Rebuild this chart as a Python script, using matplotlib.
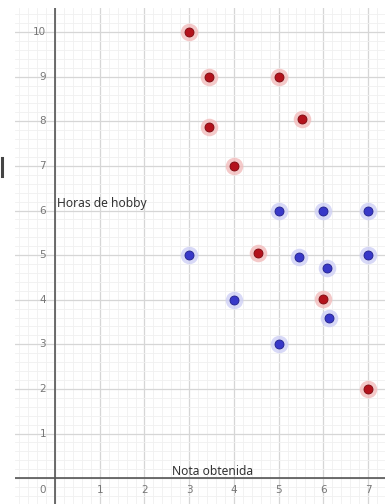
import numpy as np
import matplotlib.pyplot as plt
from matplotlib.lines import Line2D

# --- datos ---
rojo_x = [3, 3.45, 5, 3.45, 5.53, 4, 4.54, 6, 7]
rojo_y = [10, 9, 9, 7.87, 8.05, 7, 5.04, 4.02, 2]
azul_x = [3, 4, 5, 6, 7, 5.46, 6.09, 7, 6.13, 5]
azul_y = [5, 4, 6, 6, 6, 4.95, 4.71, 5, 3.59, 3]
xticks = [1, 2, 3, 4, 5, 6, 7]
yticks = [1, 2, 3, 4, 5, 6, 7, 8, 9, 10]

fig = plt.figure(figsize=(3.85, 5.04), dpi=100)
ax = fig.add_axes([15 / 385, 0, 370 / 385, 496 / 504])
ax.set_xlim(-0.895, 7.38)
ax.set_ylim(-0.58, 10.54)

# cuadricula estilo GeoGebra
ax.set_xticks(np.arange(-0.8, 7.4, 0.2), minor=True)
ax.set_yticks(np.arange(-0.4, 10.6, 0.2), minor=True)
ax.set_xticks(np.arange(-0, 8, 1))
ax.set_yticks(np.arange(0, 11, 1))
ax.grid(True, which='minor', color='#f0f0f0', linewidth=0.6)
ax.grid(True, which='major', color='#d6d6d6', linewidth=0.9)
ax.tick_params(which='both', length=0, labelbottom=False, labelleft=False)
for s in ax.spines.values():
    s.set_visible(False)
ax.set_axisbelow(True)

ax.axhline(0, color='#555555', linewidth=1.2, zorder=1)
ax.axvline(0, color='#555555', linewidth=1.2, zorder=1)

# etiquetas de los ejes
for t in xticks:
    ax.text(t, -0.27, str(t), ha='center', va='center', fontsize=7.5, color='#777777')
for t in yticks:
    ax.text(-0.2, t, str(t), ha='right', va='center', fontsize=7.5, color='#777777')
ax.text(-0.27, -0.27, '0', ha='center', va='center', fontsize=7.5, color='#777777')

ax.text(0.05, 6.07, 'Horas de hobby', fontsize=8.7, color='#333333', family='Noto Sans')
ax.text(2.62, 0.07, 'Nota obtenida', fontsize=8.7, color='#333333', family='Noto Sans')

# puntos con halo
ax.scatter(rojo_x, rojo_y, s=160, color='#f2bcbc', alpha=0.8, linewidths=0, zorder=3)
ax.scatter(rojo_x, rojo_y, s=42, color='#b3121c', edgecolors='#7a0a10', linewidths=0.6, zorder=4)
ax.scatter(azul_x, azul_y, s=160, color='#cfd0f5', alpha=0.8, linewidths=0, zorder=3)
ax.scatter(azul_x, azul_y, s=42, color='#3838c8', edgecolors='#20208a', linewidths=0.6, zorder=4)

# trozo de letra cortado en el borde izquierdo
fig.add_artist(Line2D([0.004, 0.004], [1 - 158 / 504, 1 - 176 / 504],
                      color='#444444', linewidth=2.2, transform=fig.transFigure))

fig.savefig('out.png', dpi=100)
